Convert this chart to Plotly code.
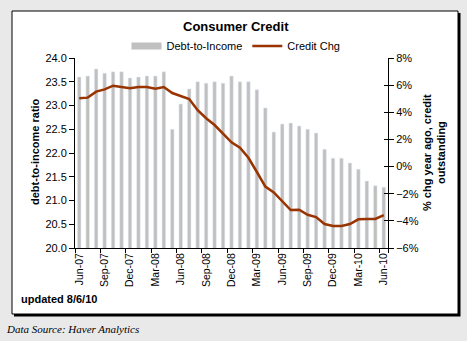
import plotly.graph_objects as go

months = ["Jun-07","Jul-07","Aug-07","Sep-07","Oct-07","Nov-07","Dec-07","Jan-08","Feb-08","Mar-08",
          "Apr-08","May-08","Jun-08","Jul-08","Aug-08","Sep-08","Oct-08","Nov-08","Dec-08","Jan-09",
          "Feb-09","Mar-09","Apr-09","May-09","Jun-09","Jul-09","Aug-09","Sep-09","Oct-09","Nov-09",
          "Dec-09","Jan-10","Feb-10","Mar-10","Apr-10","May-10","Jun-10"]

debt_to_income = [23.60, 23.62, 23.77, 23.68, 23.71, 23.71, 23.58, 23.60, 23.62, 23.62,
                  23.71, 22.50, 23.03, 23.35, 23.50, 23.47, 23.50, 23.47, 23.62, 23.50,
                  23.50, 23.33, 22.95, 22.44, 22.61, 22.63, 22.57, 22.50, 22.42, 22.08,
                  21.89, 21.89, 21.79, 21.66, 21.41, 21.31, 21.28]

credit_chg = [5.03, 5.08, 5.52, 5.69, 5.96, 5.86, 5.77, 5.86, 5.86, 5.74,
              5.86, 5.42, 5.22, 4.98, 4.15, 3.56, 3.06, 2.45, 1.79, 1.39,
              0.65, -0.40, -1.48, -1.90, -2.56, -3.20, -3.18, -3.55, -3.72, -4.23,
              -4.38, -4.38, -4.23, -3.89, -3.86, -3.86, -3.57]

tick_labels = ["Jun-07","Sep-07","Dec-07","Mar-08","Jun-08","Sep-08","Dec-08",
               "Mar-09","Jun-09","Sep-09","Dec-09","Mar-10","Jun-10"]

FONT = "Arial, Liberation Sans, sans-serif"
BAR_C = "#c0c0c0"
LINE_C = "#993300"

# plot area in pixels
W, H = 467, 341
L, R, T, B = 75, 388, 58, 248
def px(p):
    return (p - L) / (R - L)
def py(p):
    return (B - p) / (B - T)

fig = go.Figure()
fig.add_trace(go.Bar(x=months, y=debt_to_income, marker_color=BAR_C, width=0.42,
                     showlegend=False, yaxis="y"))
# legend proxy for the bars (wide swatch)
fig.add_trace(go.Scatter(x=[months[0]], y=[None], mode="lines", name="Debt-to-Income",
                         line=dict(color=BAR_C, width=7), yaxis="y"))
fig.add_trace(go.Scatter(x=months, y=credit_chg, mode="lines", name="Credit Chg",
                         line=dict(color=LINE_C, width=2.5), yaxis="y2"))
# invisible helper trace for the crossing ticks on the right axis
fig.add_trace(go.Scatter(x=[months[0]], y=[None], mode="lines", showlegend=False,
                         yaxis="y3", hoverinfo="skip"))

shapes = [
    dict(type="rect", xref="paper", yref="paper", layer="below",
         x0=px(14), x1=px(460.5), y0=py(316.5), y1=py(13),
         fillcolor="black", line=dict(width=0)),
    dict(type="rect", xref="paper", yref="paper", layer="below",
         x0=px(12), x1=px(458), y0=py(314), y1=py(11),
         fillcolor="white", line=dict(color="black", width=1)),
]

annotations = [
    dict(text="<b>Consumer Credit</b>", xref="paper", yref="paper", x=px(236), y=py(27),
         xanchor="center", yanchor="middle", showarrow=False,
         font=dict(family=FONT, size=13, color="black")),
    dict(text="<b>debt-to-income ratio</b>", xref="paper", yref="paper", x=px(35), y=py(152),
         xanchor="center", yanchor="middle", showarrow=False, textangle=-90,
         font=dict(family=FONT, size=11, color="black")),
    dict(text="<b>% chg year ago, credit<br>outstanding</b>", xref="paper", yref="paper",
         x=px(434), y=py(153), xanchor="center", yanchor="middle", showarrow=False,
         textangle=-90, font=dict(family=FONT, size=11, color="black")),
    dict(text="<b>updated 8/6/10</b>", xref="paper", yref="paper", x=px(19), y=py(299),
         xanchor="left", yanchor="middle", showarrow=False,
         font=dict(family=FONT, size=11, color="black")),
    dict(text="<i>Data Source: Haver Analytics</i>", xref="paper", yref="paper", x=px(4), y=py(329),
         xanchor="left", yanchor="middle", showarrow=False,
         font=dict(family="Liberation Serif, Times New Roman, serif", size=11, color="black")),
]

fig.update_layout(
    width=W, height=H,
    margin=dict(l=L, r=W - R, t=T, b=H - B, pad=0),
    paper_bgcolor="#e9e9e9",
    plot_bgcolor="rgba(0,0,0,0)",
    font=dict(family=FONT, size=11, color="black"),
    shapes=shapes,
    annotations=annotations,
    showlegend=True,
    legend=dict(orientation="h", x=px(236), y=py(46), xanchor="center", yanchor="middle",
                bgcolor="rgba(0,0,0,0)", font=dict(family=FONT, size=11, color="black"),
                itemwidth=30, tracegroupgap=0),
    xaxis=dict(type="category", categoryorder="array", categoryarray=months,
               tickmode="array", tickvals=tick_labels, ticktext=tick_labels,
               tickson="boundaries", ticks="outside", ticklen=4, tickwidth=1, tickcolor="black",
               tickangle=-90, tickfont=dict(family=FONT, size=10.5, color="black"),
               showline=True, linecolor="black", linewidth=1, showgrid=False, zeroline=False,
               range=[-0.5, 36.5]),
    yaxis=dict(range=[20, 24], dtick=0.5, tickformat=".1f", ticks="outside", ticklen=5,
               tickwidth=1, tickcolor="black", showline=True, linecolor="black", linewidth=1,
               showgrid=False, zeroline=False, tickfont=dict(family=FONT, size=11, color="black")),
    yaxis2=dict(range=[-6, 8], dtick=2, ticksuffix="%", overlaying="y", side="right",
                ticks="outside", ticklen=5, tickwidth=1, tickcolor="black", showline=True,
                linecolor="black", linewidth=1, showgrid=False, zeroline=False,
                tickfont=dict(family=FONT, size=11, color="black")),
    yaxis3=dict(range=[-6, 8], dtick=2, overlaying="y", side="right", anchor="x",
                ticks="inside", ticklen=4, tickwidth=1, tickcolor="black", showline=False,
                showticklabels=False, showgrid=False, zeroline=False),
)

fig.write_html("out.html")
